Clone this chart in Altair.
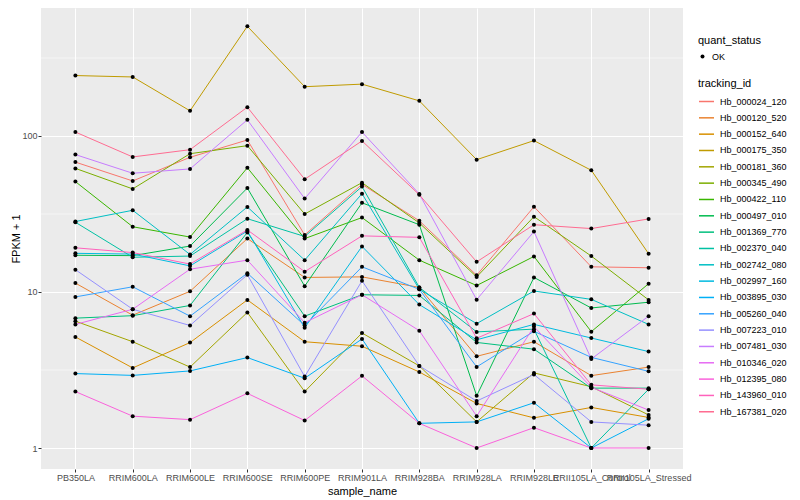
import altair as alt
import pandas as pd

samples = ["PB350LA", "RRIM600LA", "RRIM600LE", "RRIM600SE", "RRIM600PE", "RRIM901LA",
           "RRIM928BA", "RRIM928LA", "RRIM928LE", "RRII105LA_Control", "RRII105LA_Stressed"]

tracking_ids = ["Hb_000024_120", "Hb_000120_520", "Hb_000152_640", "Hb_000175_350",
                "Hb_000181_360", "Hb_000345_490", "Hb_000422_110", "Hb_000497_010",
                "Hb_001369_770", "Hb_002370_040", "Hb_002742_080", "Hb_002997_160",
                "Hb_003895_030", "Hb_005260_040", "Hb_007223_010", "Hb_007481_030",
                "Hb_010346_020", "Hb_012395_080", "Hb_143960_010", "Hb_167381_020"]

colors = ["#F8766D", "#EA8331", "#D89000", "#C09B00", "#A3A500", "#7CAE00", "#39B600",
          "#00BB4E", "#00BF7D", "#00C1A3", "#00BFC4", "#00BAE0", "#00B0F6", "#35A2FF",
          "#9590FF", "#C77CFF", "#E76BF3", "#FA62DB", "#FF62BC", "#FF6C91"]

# FPKM + 1 per sample, in the order of `samples`
hb_000024_120 = [68, 51.5, 73, 94.3, 23.2, 49, 28.6, 12.8, 35.2, 14.5, 14.3]
hb_000120_520 = [11.4, 7.1, 10.1, 22.0, 12.4, 12.5, 10.7, 3.87, 4.8, 2.91, 3.3]
hb_000152_640 = [5.15, 3.26, 4.74, 8.9, 4.8, 4.49, 3.07, 1.93, 1.56, 1.82, 1.57]
hb_000175_350 = [244, 239, 145, 505, 207, 215, 168, 70.5, 93.4, 60.3, 17.6]
hb_000181_360 = [6.5, 4.8, 3.3, 7.4, 2.3, 5.46, 3.36, 1.47, 3.03, 2.47, 1.63]
hb_000345_490 = [62, 45.8, 77, 86.7, 31.6, 50.2, 27.7, 12.5, 30.4, 17.0, 8.9]
hb_000422_110 = [51, 26.2, 22.5, 62.6, 22.0, 30.0, 16.0, 11.0, 16.9, 5.57, 11.3]
hb_000497_010 = [17.2, 17.1, 19.7, 46.4, 10.9, 37.3, 27.0, 2.16, 12.4, 7.9, 8.6]
hb_001369_770 = [6.8, 7.05, 8.2, 24.1, 7.0, 9.6, 9.5, 4.75, 4.3, 2.42, 2.42]
hb_002370_040 = [28.0, 16.7, 17.0, 29.5, 22.7, 47.4, 10.7, 5.55, 5.78, 1.0, 2.38]
hb_002742_080 = [28.3, 33.4, 17.4, 35.1, 16.0, 42.7, 10.4, 6.27, 10.15, 8.97, 6.2]
hb_002997_160 = [17.7, 17.5, 14.7, 24.6, 5.9, 19.6, 8.3, 4.94, 6.2, 5.07, 4.15]
hb_003895_030 = [3.0, 2.92, 3.12, 3.8, 2.8, 5.0, 1.44, 1.47, 1.95, 1.0, 1.54]
hb_005260_040 = [9.3, 10.8, 7.0, 13.2, 6.1, 14.5, 10.4, 3.31, 5.6, 3.81, 3.1]
hb_007223_010 = [13.9, 7.75, 6.1, 12.9, 2.87, 11.8, 3.36, 2.0, 2.96, 1.47, 1.40]
hb_007481_030 = [76, 57.7, 61.5, 127, 39.7, 106, 42.5, 8.93, 24.4, 3.72, 7.0]
hb_010346_020 = [6.2, 7.75, 14.0, 16.0, 6.36, 9.6, 5.65, 1.6, 6.0, 2.45, 1.75]
hb_012395_080 = [2.3, 1.6, 1.52, 2.24, 1.5, 2.9, 1.44, 1.0, 1.35, 1.0, 1.0]
hb_143960_010 = [19.2, 17.9, 15.1, 25.0, 13.5, 22.9, 22.4, 5.05, 7.27, 2.54, 2.38]
hb_167381_020 = [106, 73.4, 81.7, 153, 52.8, 93, 42.0, 15.6, 27.0, 25.5, 29.4]

series = [hb_000024_120, hb_000120_520, hb_000152_640, hb_000175_350, hb_000181_360,
          hb_000345_490, hb_000422_110, hb_000497_010, hb_001369_770, hb_002370_040,
          hb_002742_080, hb_002997_160, hb_003895_030, hb_005260_040, hb_007223_010,
          hb_007481_030, hb_010346_020, hb_012395_080, hb_143960_010, hb_167381_020]

major_breaks = [1, 10, 100]
minor_breaks = [3.1623, 31.623, 316.23]

rows = []
for tid, vals in zip(tracking_ids, series):
    for s, v in zip(samples, vals):
        rows.append({"sample_name": s, "tracking_id": tid, "fpkm": v, "quant_status": "OK"})
df = pd.DataFrame(rows)

FONT = "Liberation Sans"

yscale = alt.Scale(type="log", domain=[0.7335, 661.4], nice=False)
yaxis = alt.Axis(values=major_breaks, format="d", title="FPKM + 1", titlePadding=0)
xenc = alt.X("sample_name:N", sort=samples,
             scale=alt.Scale(type="point", padding=0.6),
             axis=alt.Axis(title="sample_name", labelAngle=0, labelOverlap=False,
                           labelBound=False, labelFlush=False, grid=True, titlePadding=3))

minor = alt.Chart(pd.DataFrame({"fpkm": minor_breaks})).mark_rule(
    color="white", strokeWidth=0.5).encode(y=alt.Y("fpkm:Q", scale=yscale, axis=yaxis))

lines = alt.Chart(df).mark_line(strokeWidth=1).encode(
    x=xenc,
    y=alt.Y("fpkm:Q", scale=yscale, axis=yaxis),
    color=alt.Color("tracking_id:N",
                    scale=alt.Scale(domain=tracking_ids, range=colors),
                    legend=alt.Legend(title="tracking_id", orient="none",
                                      legendX=657, legendY=70,
                                      symbolType="stroke", symbolSize=225,
                                      symbolStrokeWidth=1.5, titlePadding=4,
                                      rowPadding=2.33)),
)

points = alt.Chart(df).mark_point(filled=True, size=16, color="black", opacity=1).encode(
    x=xenc,
    y=alt.Y("fpkm:Q", scale=yscale, axis=yaxis),
    shape=alt.Shape("quant_status:N",
                    scale=alt.Scale(domain=["OK"], range=["circle"]),
                    legend=alt.Legend(title="quant_status", orient="none",
                                      legendX=657, legendY=27,
                                      symbolFillColor="black", symbolStrokeColor="black",
                                      symbolSize=16, titlePadding=6)),
)

chart = alt.layer(minor, lines, points).properties(
    width=642, height=461,
    autosize=alt.AutoSizeParams(type="none"),
    padding={"left": 33, "top": 0, "right": 109, "bottom": 28},
).configure_view(
    fill="#EBEBEB", stroke=None
).configure_axis(
    gridColor="white", gridWidth=1, domain=False,
    tickColor="#333333", tickSize=3, tickWidth=1,
    labelColor="#4D4D4D", labelFontSize=9, labelFont=FONT, labelPadding=1,
    titleFontSize=11, titleFontWeight="normal", titleColor="black", titleFont=FONT,
).configure_legend(
    titleFontSize=11, titleFontWeight="normal", titleColor="black", titleFont=FONT,
    labelFontSize=9, labelColor="black", labelFont=FONT, padding=0, labelOffset=5,
)

chart.save("out.html", embed_options={"renderer": "svg", "actions": False})
